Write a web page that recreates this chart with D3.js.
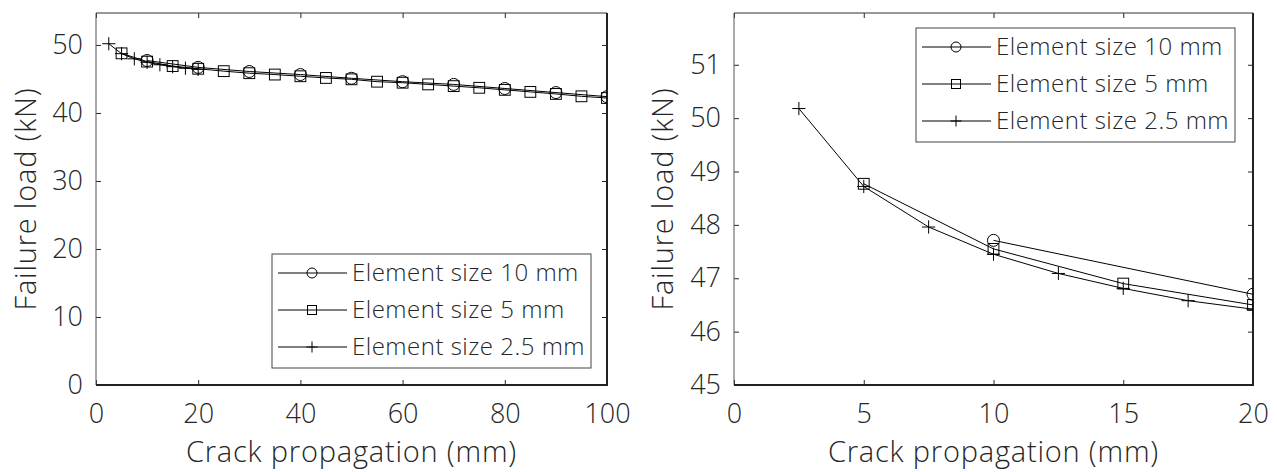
<!DOCTYPE html>
<html lang="en">
<head>
  <meta charset="UTF-8" />
  <title>Failure load vs crack propagation</title>
  <style>
    body { margin: 0; background: #fff; }
    text { font-family: "Open Sans", "Noto Sans", sans-serif; font-weight: 300; fill: #262626; }
    .tick line { stroke: #262626; }
    .domain { display: none; }
  </style>
</head>
<body>
  <div id="chart"></div>
  <script src="https://d3js.org/d3.v7.min.js"></script>
  <script>
    // data (crack propagation in mm, failure load in kN)
    var crack10 = [10, 20, 30, 40, 50, 60, 70, 80, 90, 100];
    var load10  = [47.71, 46.70, 46.10, 45.65, 45.10, 44.60, 44.20, 43.60, 43.00, 42.40];

    var crack5 = [5, 10, 15, 20, 25, 30, 35, 40, 45, 50, 55, 60, 65, 70, 75, 80, 85, 90, 95, 100];
    var load5  = [48.77, 47.55, 46.90, 46.50, 46.15, 45.85, 45.65, 45.40, 45.15, 44.95,
                  44.60, 44.45, 44.20, 43.95, 43.70, 43.40, 43.10, 42.80, 42.45, 42.20];

    var crack25 = [2.5, 5, 7.5, 10, 12.5, 15, 17.5, 20];
    var load25  = [50.18, 48.72, 47.96, 47.45, 47.09, 46.81, 46.58, 46.42];

    var seriesNames = ["Element size 10 mm", "Element size 5 mm", "Element size 2.5 mm"];
    var markers = ["circle", "square", "plus"];

    var xTicksLeft = [0, 20, 40, 60, 80, 100];
    var yTicksLeft = [0, 10, 20, 30, 40, 50];
    var xTicksRight = [0, 5, 10, 15, 20];
    var yTicksRight = [45, 46, 47, 48, 49, 50, 51];

    var series = [
      { name: seriesNames[0], marker: markers[0], pts: crack10.map(function(c, i) { return [c, load10[i]]; }) },
      { name: seriesNames[1], marker: markers[1], pts: crack5.map(function(c, i) { return [c, load5[i]]; }) },
      { name: seriesNames[2], marker: markers[2], pts: crack25.map(function(c, i) { return [c, load25[i]]; }) }
    ];

    var svg = d3.select("#chart").append("svg")
      .attr("width", 1277).attr("height", 472);

    function drawMarker(g, type, size) {
      if (type === "circle") {
        g.append("circle").attr("r", size / 2)
          .attr("fill", "none").attr("stroke", "#000").attr("stroke-width", 1);
      } else if (type === "square") {
        var s = size * 0.9;
        g.append("rect").attr("x", -s / 2).attr("y", -s / 2).attr("width", s).attr("height", s)
          .attr("fill", "none").attr("stroke", "#000").attr("stroke-width", 1);
      } else {
        var h = size * 0.55;
        g.append("path").attr("d", "M" + (-h) + ",0H" + h + "M0," + (-h) + "V" + h)
          .attr("fill", "none").attr("stroke", "#000").attr("stroke-width", 1);
      }
    }

    function panel(p) {
      var x = d3.scaleLinear().domain(p.xDomain).range([p.left, p.right]);
      var y = d3.scaleLinear().domain(p.yDomain).range([p.bottom, p.top]);
      var fmt = d3.format("d");
      var g = svg.append("g");

      // clip to the axes box
      svg.append("clipPath").attr("id", p.id)
        .append("rect").attr("x", p.left).attr("y", p.top)
        .attr("width", p.right - p.left).attr("height", p.bottom - p.top);

      // axes with inward ticks on all four sides
      g.append("g").attr("transform", "translate(0," + p.bottom + ")")
        .call(d3.axisBottom(x).tickValues(p.xTicks).tickFormat(fmt).tickSizeInner(-5).tickSizeOuter(0).tickPadding(19))
        .call(function(a) { a.selectAll("text").style("font-size", "27px"); });
      g.append("g").attr("transform", "translate(0," + p.top + ")")
        .call(d3.axisTop(x).tickValues(p.xTicks).tickSizeInner(-5).tickSizeOuter(0).tickFormat(""));
      g.append("g").attr("transform", "translate(" + p.left + ",0)")
        .call(d3.axisLeft(y).tickValues(p.yTicks).tickFormat(fmt).tickSizeInner(-5).tickSizeOuter(0).tickPadding(13))
        .call(function(a) { a.selectAll("text").style("font-size", "27px"); });
      g.append("g").attr("transform", "translate(" + p.right + ",0)")
        .call(d3.axisRight(y).tickValues(p.yTicks).tickSizeInner(-5).tickSizeOuter(0).tickFormat(""));

      // box lines
      g.append("line").attr("x1", p.left).attr("x2", p.right).attr("y1", p.top).attr("y2", p.top)
        .attr("stroke", "#333").attr("stroke-width", 1);
      g.append("line").attr("x1", p.left).attr("x2", p.left).attr("y1", p.top).attr("y2", p.bottom)
        .attr("stroke", "#555").attr("stroke-width", 1);
      g.append("line").attr("x1", p.left).attr("x2", p.right + 1).attr("y1", p.bottom).attr("y2", p.bottom)
        .attr("stroke", "#222").attr("stroke-width", 2);
      g.append("line").attr("x1", p.right).attr("x2", p.right).attr("y1", p.top).attr("y2", p.bottom)
        .attr("stroke", "#222").attr("stroke-width", 2);

      // data
      var plot = g.append("g").attr("clip-path", "url(#" + p.id + ")");
      var line = d3.line().x(function(d) { return x(d[0]); }).y(function(d) { return y(d[1]); });
      series.forEach(function(s) {
        plot.append("path").datum(s.pts).attr("d", line)
          .attr("fill", "none").attr("stroke", "#000").attr("stroke-width", 1);
        plot.selectAll(null).data(s.pts).enter().append("g")
          .attr("transform", function(d) { return "translate(" + x(d[0]) + "," + y(d[1]) + ")"; })
          .each(function() { drawMarker(d3.select(this), s.marker, 12); });
      });

      // axis titles
      g.append("text").attr("x", (p.left + p.right) / 2).attr("y", 462)
        .attr("text-anchor", "middle").style("font-size", "29px").style("letter-spacing", "0.8px")
        .text("Crack propagation (mm)");
      g.append("text")
        .attr("transform", "translate(" + p.yTitleX + "," + ((p.top + p.bottom) / 2) + ") rotate(-90)")
        .attr("text-anchor", "middle").style("font-size", "29px").style("letter-spacing", "0.8px")
        .text("Failure load (kN)");

      // legend
      var lg = g.append("g").attr("transform", "translate(" + p.legX + "," + p.legY + ")");
      lg.append("rect").attr("x", 0).attr("y", 0).attr("width", 319).attr("height", 114)
        .attr("fill", "#fff").attr("stroke", "#444").attr("stroke-width", 1);
      series.forEach(function(s, i) {
        var row = lg.append("g").attr("transform", "translate(0," + (19 + i * 37) + ")");
        row.append("line").attr("x1", 6).attr("x2", 75).attr("y1", 0).attr("y2", 0)
          .attr("stroke", "#000").attr("stroke-width", 1);
        var m = row.append("g").attr("transform", "translate(40,0)");
        drawMarker(m, s.marker, 10);
        row.append("text").attr("x", 80).attr("y", 0).attr("dy", "0.35em")
          .style("font-size", "24px").style("letter-spacing", "0.5px").text(s.name);
      });
    }

    panel({ id: "clipL", xDomain: [0, 100], yDomain: [0, 54.7], left: 96, right: 607, top: 13, bottom: 385,
            xTicks: xTicksLeft, yTicks: yTicksLeft, yTitleX: 36, legX: 272, legY: 254 });
    panel({ id: "clipR", xDomain: [0, 20], yDomain: [45, 51.97], left: 734, right: 1253, top: 13, bottom: 385,
            xTicks: xTicksRight, yTicks: yTicksRight, yTitleX: 673, legX: 916, legY: 28 });
  </script>
</body>
</html>
